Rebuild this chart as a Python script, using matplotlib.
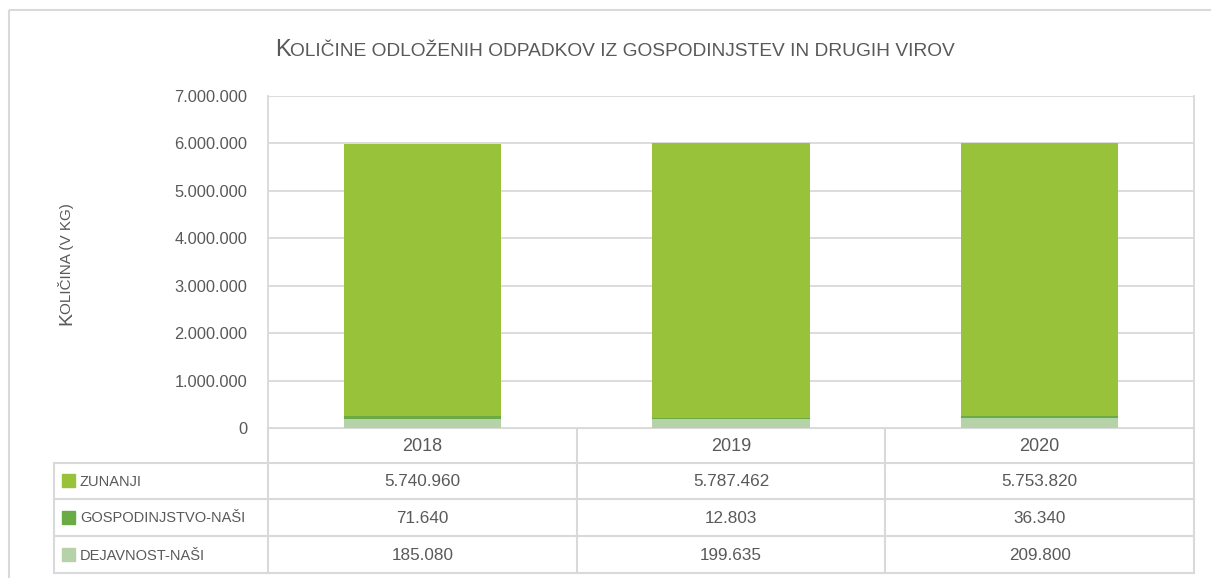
import matplotlib
matplotlib.use("Agg")
import matplotlib.pyplot as plt
from matplotlib.ticker import FuncFormatter, MultipleLocator
from matplotlib.patches import Rectangle

# ============================================================
# Data
# ============================================================

years = ["2018", "2019", "2020"]

zunanji = [5740960, 5787462, 5753820]
gospodinjstvo = [71640, 12803, 36340]
dejavnost = [185080, 199635, 209800]

series_names = ["zunanji", "gospodinjstvo-naši", "dejavnost-naši"]
series_values = [zunanji, gospodinjstvo, dejavnost]
series_colors = ["#98C23A", "#6AAB46", "#B5D2A8"]

TITLE = "Količine odloženih odpadkov iz gospodinjstev in drugih virov"
YLABEL = "Količina (v kg)"

TEXT = "#595959"
GRID = "#D9D9D9"
FONT = ["Liberation Sans Narrow", "Liberation Sans", "DejaVu Sans"]

plt.rcParams["font.family"] = FONT


def fmt(v, pos=None):
    return f"{int(v):,}".replace(",", ".")


# ============================================================
# Figure
# ============================================================

W, H = 1211, 578
fig = plt.figure(figsize=(W / 100, H / 100), dpi=100)

# overlay axes in pixel coordinates for frame, table and titles
over = fig.add_axes([0, 0, 1, 1])
over.set_xlim(0, W)
over.set_ylim(H, 0)
over.axis("off")

left, right, top, bottom = 268, 1194, 96, 428
ax = fig.add_axes([left / W, (H - bottom) / H, (right - left) / W, (bottom - top) / H])

x = range(len(years))
base = [0] * len(years)
for name, vals, col in zip(reversed(series_names), reversed(series_values), reversed(series_colors)):
    ax.bar(x, vals, width=0.51, bottom=base, color=col, zorder=3)
    base = [b + v for b, v in zip(base, vals)]

ax.set_xlim(-0.5, len(years) - 0.5)
ax.set_ylim(0, 7000000)
ax.yaxis.set_major_locator(MultipleLocator(1000000))
ax.yaxis.set_major_formatter(FuncFormatter(fmt))
ax.grid(axis="y", color=GRID, linewidth=1.3, zorder=0)
ax.set_xticks([])
ax.tick_params(axis="y", length=0, pad=15, labelsize=11.8, labelcolor=TEXT)
for s in ["top", "bottom"]:
    ax.spines[s].set_visible(False)
for s in ["left", "right"]:
    ax.spines[s].set_color(GRID)
    ax.spines[s].set_linewidth(1.3)

# ============================================================
# Outer frame
# ============================================================

over.add_patch(Rectangle((9, 10), W + 20, H + 20, fill=False,
                         edgecolor=GRID, linewidth=1.5))

# ============================================================
# Data table
# ============================================================

tab_left = 54
row_lines = [bottom, 463, 499, 536, 573]
col_w = (right - left) / len(years)
col_lines = [left + i * col_w for i in range(len(years) + 1)]
lc = dict(color=GRID, linewidth=1.5)

over.plot([left, right], [row_lines[0]] * 2, **lc)
for yl in row_lines[1:]:
    over.plot([tab_left, right], [yl, yl], **lc)
for xl in col_lines:
    over.plot([xl, xl], [row_lines[0], row_lines[-1]], **lc)
over.plot([tab_left, tab_left], [row_lines[1], row_lines[-1]], **lc)

for i, yr in enumerate(years):
    cx = left + (i + 0.5) * col_w
    over.text(cx, (row_lines[0] + row_lines[1]) / 2 + 1, yr, ha="center",
              va="center", fontsize=13, color=TEXT)
    for r, vals in enumerate(series_values):
        cy = (row_lines[r + 1] + row_lines[r + 2]) / 2 + 1
        over.text(cx, cy, fmt(vals[i]), ha="center", va="center",
                  fontsize=12.3, color=TEXT)

for r, (name, col) in enumerate(zip(series_names, series_colors)):
    cy = (row_lines[r + 1] + row_lines[r + 2]) / 2
    over.add_patch(Rectangle((62, cy - 7), 13, 13, color=col))
    over.text(80, cy + 1, name.upper(), ha="left", va="center",
              fontsize=10.5, color=TEXT)

# ============================================================
# Small caps texts (title, y label)
# ============================================================

renderer = fig.canvas.get_renderer()


def small_caps(cx, cy, text, big, small, rotation=0, shrink=0):
    runs = []
    for ch in text:
        size = big if ch.isupper() else small
        if runs and runs[-1][1] == size:
            runs[-1][0] += ch.upper()
        else:
            runs.append([ch.upper(), size])
    widths = []
    for s, size in runs:
        t = over.text(0, 0, s, fontsize=size)
        widths.append(t.get_window_extent(renderer).width - shrink)
        t.remove()
    total = sum(widths)
    pos = -total / 2
    for (s, size), w in zip(runs, widths):
        if rotation == 0:
            over.text(cx + pos, cy, s, fontsize=size, color=TEXT,
                      ha="left", va="baseline")
        else:
            over.text(cx, cy - pos, s, fontsize=size, color=TEXT,
                      ha="left", va="baseline", rotation=90,
                      rotation_mode="anchor")
        pos += w


small_caps(615, 56, TITLE, 17, 13.8)
small_caps(71, 265, YLABEL, 14, 11, rotation=90, shrink=2)

fig.savefig("out.png", dpi=100)
